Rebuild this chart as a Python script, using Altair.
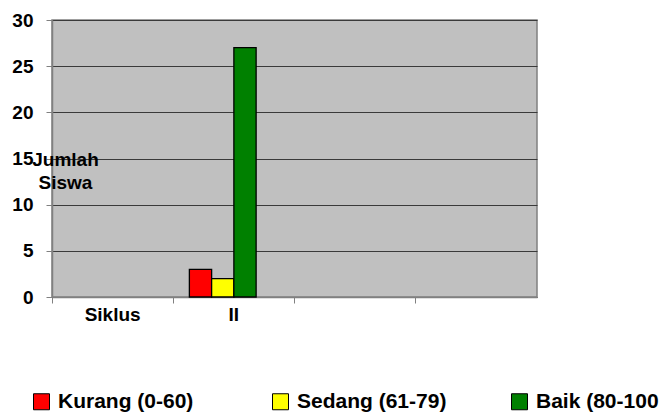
import altair as alt
import pandas as pd

categories = ["Siklus", "II", " ", "  "]
series = ["Kurang (0-60)", "Sedang (61-79)", "Baik (80-100"]
slots = series + ["-"]
bar_category = ["II", "II", "II"]
values = [3, 2, 27]
colors = ["#FF0000", "#FFFF00", "#008000"]
y_ticks = [0, 5, 10, 15, 20, 25, 30]

df = pd.DataFrame({"Siklus": bar_category, "Kategori": series, "Jumlah": values})

FONT = "Liberation Sans"

chart = alt.Chart(df).mark_bar(stroke="black", strokeWidth=1.3).encode(
    x=alt.X(
        "Siklus:N",
        scale=alt.Scale(domain=categories, paddingInner=0, paddingOuter=0),
        axis=alt.Axis(
            title=None,
            labelAngle=0,
            bandPosition=0,
            labelFontSize=19,
            labelFontWeight="bold",
            labelFont=FONT,
            labelColor="black",
            labelPadding=2,
            tickSize=6,
            tickColor="#808080",
            domainColor="#808080",
            domainWidth=1.5,
            grid=False,
        ),
    ),
    xOffset=alt.XOffset(
        "Kategori:N",
        scale=alt.Scale(domain=slots, paddingInner=0, paddingOuter=0.725),
    ),
    y=alt.Y(
        "Jumlah:Q",
        scale=alt.Scale(domain=[0, 30], nice=False),
        axis=alt.Axis(
            values=y_ticks,
            title=["Jumlah", "Siswa"],
            titleAngle=0,
            titleAlign="center",
            titleBaseline="alphabetic",
            titleX=13,
            titleY=145,
            titleFontSize=19,
            titleFontWeight="bold",
            titleFont=FONT,
            titleColor="black",
            titleLineHeight=23,
            labelFontSize=19,
            labelFontWeight="bold",
            labelFont=FONT,
            labelColor="black",
            labelPadding=13,
            tickSize=6,
            tickColor="#808080",
            domainColor="#808080",
            domainWidth=1.5,
            grid=True,
            gridColor="#3a3a3a",
            gridWidth=1.2,
        ),
    ),
    color=alt.Color(
        "Kategori:N",
        scale=alt.Scale(domain=series, range=colors),
        legend=alt.Legend(
            title=None,
            orient="none",
            legendX=-21,
            legendY=371,
            direction="horizontal",
            columns=3,
            gridAlign="all",
            columnPadding=62,
            symbolType="square",
            symbolSize=256,
            symbolStrokeColor="black",
            symbolStrokeWidth=1,
            symbolOpacity=1,
            labelFontSize=21,
            labelFontWeight="bold",
            labelFont=FONT,
            labelColor="black",
            labelOffset=6,
            labelLimit=400,
            padding=0,
        ),
    ),
).properties(
    width=485,
    height=277,
    autosize=alt.AutoSizeParams(type="none"),
    padding={"left": 52, "top": 20, "right": 130, "bottom": 118},
).configure_view(
    fill="#C0C0C0", stroke="#808080", strokeWidth=1.5
)

chart.save("out.html", embed_options={"renderer": "svg", "actions": False})
